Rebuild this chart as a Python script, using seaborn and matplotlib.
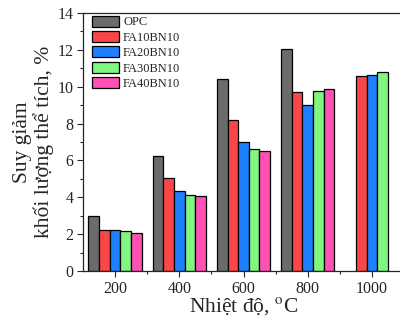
import seaborn as sns
import matplotlib.pyplot as plt
import pandas as pd
import numpy as np

# temperatures (oC) and mixes
temps = ["200", "400", "600", "800", "1000"]
mixes = ["OPC", "FA10BN10", "FA20BN10", "FA30BN10", "FA40BN10"]

# volume mass loss, % (NaN = not measured)
opc = [3.0, 6.25, 10.4, 12.05, np.nan]
fa10 = [2.2, 5.05, 8.2, 9.7, 10.6]
fa20 = [2.25, 4.35, 7.0, 9.0, 10.65]
fa30 = [2.15, 4.15, 6.6, 9.75, 10.8]
fa40 = [2.05, 4.05, 6.5, 9.9, np.nan]

colors = ["#6b6b6b", "#fa4646", "#1f80ff", "#80f580", "#ff50b4"]

#build long table for seaborn
rows = []
for mix, vals in zip(mixes, [opc, fa10, fa20, fa30, fa40]):
    for t, v in zip(temps, vals):
        if not np.isnan(v):
            rows.append({"temp": t, "mix": mix, "loss": v})
df = pd.DataFrame(rows)

sns.set_style("ticks")
plt.rcParams['font.family'] = ['Liberation Serif', 'DejaVu Serif']
plt.rcParams['mathtext.fontset'] = 'stix'

fig = plt.figure(figsize=(4.0, 3.23), dpi=100)
ax = fig.add_axes([83/400, 1 - 271/323, (404 - 83)/400, (271 - 13)/323])

sns.barplot(data=df, x="temp", y="loss", hue="mix", order=temps, hue_order=mixes,
            palette=colors, width=0.83, gap=0, edgecolor="black", linewidth=0.9,
            saturation=1, ax=ax)

ax.set_xlim(-0.5, 4.5)
ax.set_ylim(0, 14)
ax.set_yticks(range(0, 15, 2))
ax.set_yticks(range(1, 14, 2), minor=True)
ax.set_xticks([0.5, 1.5, 2.5, 3.5], minor=True)
ax.tick_params(axis="both", which="major", direction="out", length=4, width=0.8, labelsize=11.5, pad=3)
ax.tick_params(axis="both", which="minor", direction="out", length=2.5, width=0.8)
for s in ax.spines.values():
    s.set_linewidth(0.9)
    s.set_visible(True)

ax.set_xlabel("Nhiệt độ, $^{\\rm o}$C", fontsize=15.5, labelpad=-1)
ax.set_ylabel("Suy giảm\nkhối lượng thể tích, %", fontsize=15.5, labelpad=2, linespacing=1.1)

ax.legend(loc="upper left", frameon=False, fontsize=9, handlelength=2.2, handleheight=1.0,
          labelspacing=0.2, handletextpad=0.3, borderaxespad=0.1, borderpad=0.1,
          bbox_to_anchor=(0.02, 1.0))

fig.savefig("out.png", dpi=100)
